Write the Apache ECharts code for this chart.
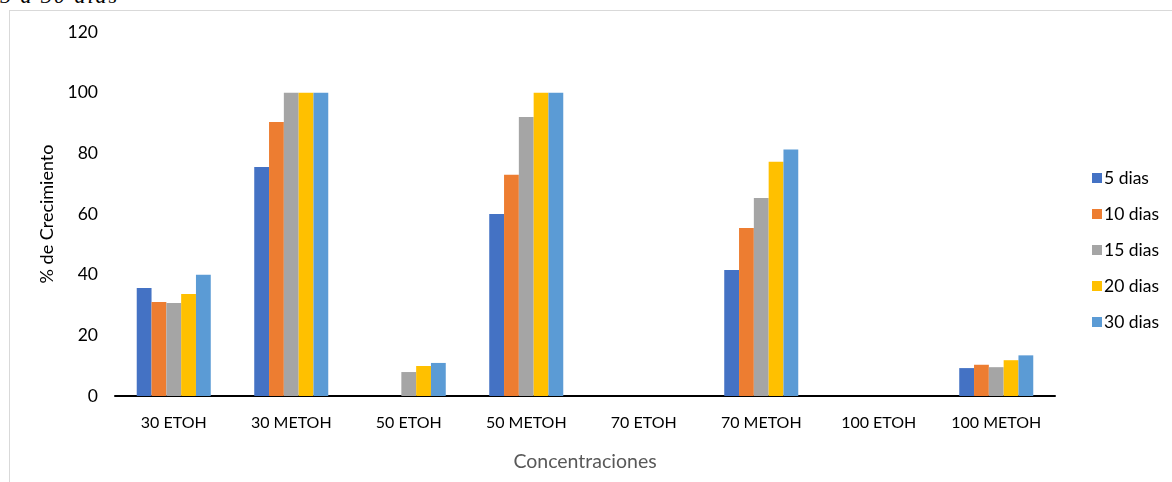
<!DOCTYPE html>
<html>
<head>
<meta charset="utf-8">
<script src="https://cdn.jsdelivr.net/npm/echarts@6/dist/echarts.min.js"></script>
<style>
html,body{margin:0;padding:0;background:#fff;}
#wrap{position:relative;width:1172px;height:482px;overflow:hidden;}
#cap{position:absolute;left:0;top:-17px;font-family:"Liberation Serif",serif;font-style:italic;font-size:22px;letter-spacing:2px;color:#000;white-space:nowrap;}
#frame{position:absolute;left:9px;top:10px;width:1200px;height:500px;border:1px solid #d9d9d9;box-sizing:border-box;}
#chart{position:absolute;left:0;top:0;width:1172px;height:482px;}
</style>
</head>
<body>
<div id="wrap">
<div id="cap">5 a 30 dias</div>
<div id="frame"></div>
<div id="chart"></div>
</div>
<script>
const categories = ["30 ETOH","30 METOH","50 ETOH","50 METOH","70 ETOH","70 METOH","100 ETOH","100 METOH"];
const seriesNames = ["5 dias","10 dias","15 dias","20 dias","30 dias"];
const d5  = [35.6, 75.5, 0, 60, 0, 41.5, 0, 9.2];
const d10 = [31, 90.3, 0, 72.9, 0, 55.4, 0, 10.3];
const d15 = [30.7, 100, 7.9, 92, 0, 65.3, 0, 9.5];
const d20 = [33.6, 100, 9.9, 100, 0, 77.2, 0, 11.8];
const d30 = [40, 100, 10.9, 100, 0, 81.3, 0, 13.4];
const yTicks = {min:0, max:120, interval:20};
const colors = ["#4472C4","#ED7D31","#A5A5A5","#FFC000","#5B9BD5"];
const allData = [d5,d10,d15,d20,d30];

const chart = echarts.init(document.getElementById('chart'));
const font = "Lato, 'Open Sans', sans-serif";
chart.setOption({
  animation:false,
  color: colors,
  grid:{left:115, right:117, top:32, bottom:86},
  legend:{
    orient:'vertical', left:1087, top:164,
    itemWidth:10, itemHeight:10, itemGap:18,
    icon:'rect',
    textStyle:{fontFamily:font, fontSize:17.5, color:'#000', padding:[0,0,0,-3]},
    data: seriesNames
  },
  xAxis:{
    type:'category', data:categories,
    name:'Concentraciones', nameLocation:'middle', nameGap:56,
    nameTextStyle:{fontFamily:font, fontSize:19.5, color:'#595959'},
    axisLine:{lineStyle:{color:'#000', width:2}},
    axisTick:{show:false},
    axisLabel:{fontFamily:font, fontSize:16, color:'#000', margin:19, interval:0}
  },
  yAxis:{
    type:'value', min:yTicks.min, max:yTicks.max, interval:yTicks.interval,
    name:'% de Crecimiento', nameLocation:'middle', nameGap:56, nameRotate:90,
    nameTextStyle:{fontFamily:font, fontSize:18, color:'#000'},
    axisLine:{show:false}, axisTick:{show:false},
    splitLine:{show:false},
    axisLabel:{fontFamily:font, fontSize:17.5, color:'#000', margin:17}
  },
  series: seriesNames.map((n,i)=>({
    name:n, type:'bar', data:allData[i],
    barGap:'0%', barCategoryGap:'37%'
  }))
});
</script>
</body>
</html>
